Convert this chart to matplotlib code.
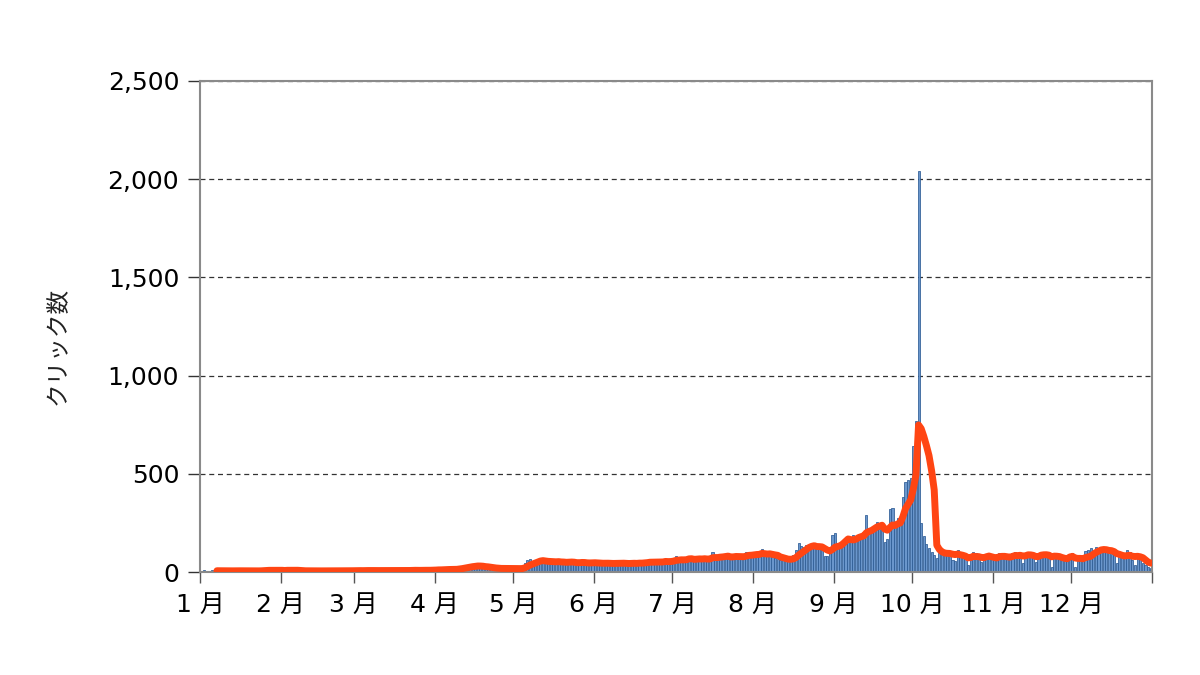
import numpy as np
import pandas as pd
import matplotlib
matplotlib.use("Agg")
import matplotlib.pyplot as plt
from matplotlib.ticker import FuncFormatter

plt.rcParams['font.family'] = ['DejaVu Sans', 'Noto Sans CJK JP']

# ---- data: daily clicks by month ----
jan = [6,8,5,7,9,6,4,5,7,6,5,8,6,5,7,6,4,6,7,5,6,5,7,6,12,15,8,7,6,5,7]
feb = [12,9,14,8,6,5,7,6,5,6,7,5,4,6,5,7,6,5,6,7,5,6,8,6,7,5,6,7]
mar = [8,7,9,6,8,7,6,9,8,7,6,8,9,7,8,6,7,9,8,7,9,8,10,9,8,7,10,9,8,11,12]
apr = [12,13,11,14,12,15,13,14,16,22,28,30,35,26,32,29,33,27,24,20,18,19,17,18,20,16,19,18,17,16]
may = [18,15,17,20,45,62,68,55,50,58,52,60,48,56,50,45,52,58,49,44,47,55,50,46,42,48,52,45,43,47,50]
jun = [44,42,46,40,43,48,45,41,44,47,42,46,43,40,45,48,44,50,46,52,48,60,50,47,53,49,51,66,55,52]
jul = [60,81,58,62,65,60,82,64,59,66,70,63,68,72,65,103,74,70,78,76,85,80,72,79,83,76,75,80,102,98,85]
aug = [95,88,80,117,90,85,92,75,70,65,62,62,58,66,70,85,110,148,130,125,135,138,128,132,120,126,115,80,82,95,188]
sep = [200,150,140,150,170,180,165,190,175,195,185,200,290,210,225,235,256,220,230,155,170,320,325,240,275,265,380,460,470,480]
oct_ = [640,770,2040,250,185,145,120,100,85,70,96,105,100,110,95,60,55,112,85,78,80,35,70,103,98,85,52,65,70,96,78]
nov = [72,68,98,75,70,80,65,98,102,95,85,44,90,98,95,85,52,88,92,103,100,80,27,75,85,80,70,72,65,88]
dec = [98,27,65,70,60,105,110,122,100,129,115,105,120,103,98,90,95,44,80,87,78,112,100,60,35,87,70,45,35,25,20]

months = [jan, feb, mar, apr, may, jun, jul, aug, sep, oct_, nov, dec]
month_labels = ['1 月', '2 月', '3 月', '4 月', '5 月', '6 月', '7 月', '8 月', '9 月', '10 月', '11 月', '12 月']
y_ticks = [0, 500, 1000, 1500, 2000, 2500]
y_label = 'クリック数'

clicks = np.array([v for m in months for v in m], dtype=float)
days = np.arange(len(clicks))
month_starts = np.cumsum([0] + [len(m) for m in months])
avg7 = pd.Series(clicks).rolling(7).mean()

# ---- figure ----
fig = plt.figure(figsize=(12, 6.75), dpi=100)
ax = fig.add_axes([200/1200, 1-572/675, 952/1200, 491/675])

ax.bar(days + 0.5, clicks, width=0.8, color='#6a96cc', edgecolor='#2c5a94',
       linewidth=0.55, zorder=2)
ax.plot(days + 0.5, avg7, color='#ff4513', linewidth=5,
        solid_capstyle='round', solid_joinstyle='round', zorder=3)

ax.set_xlim(0, month_starts[-1])
ax.set_ylim(0, 2500)

ax.set_xticks(month_starts)
ax.set_xticklabels(month_labels + [''])
ax.set_yticks(y_ticks)
ax.yaxis.set_major_formatter(FuncFormatter(lambda v, p: f'{int(v):,}'))

ax.tick_params(axis='x', direction='out', length=8, width=1, color='#555555',
               labelsize=18, pad=7)
ax.tick_params(axis='y', direction='out', length=9, width=1, color='#333333',
               labelsize=18, pad=6)

ax.yaxis.grid(True, linestyle=(0, (4, 3)), color='#333333', linewidth=0.9, zorder=1)
ax.set_axisbelow(True)

for s in ax.spines.values():
    s.set_color('#8a8a8a')
    s.set_linewidth(1.5)

ax.set_ylabel(y_label, fontsize=17, family=['Noto Sans CJK JP', 'DejaVu Sans'],
              color='#222222')
ax.yaxis.set_label_coords(-0.137, 0.46)

fig.savefig('out.png', dpi=100)
